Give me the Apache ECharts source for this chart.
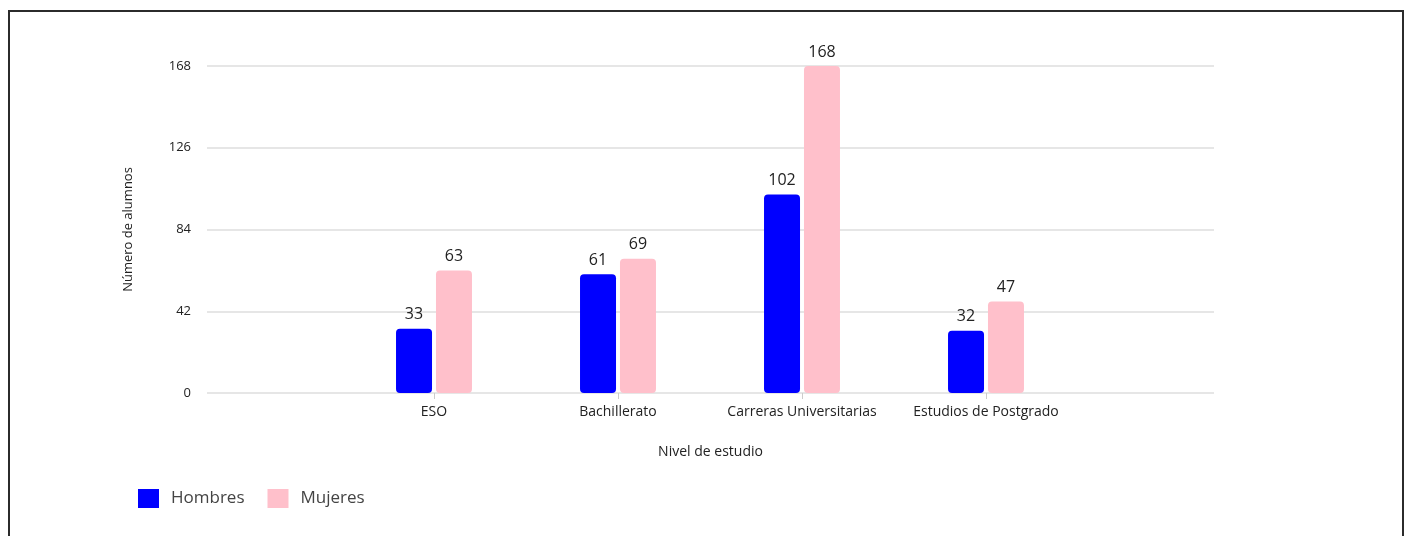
<!DOCTYPE html>
<html>
<head>
<meta charset="utf-8">
<script src="https://cdn.jsdelivr.net/npm/echarts@6/dist/echarts.min.js"></script>
<style>
  html, body { margin: 0; padding: 0; background: #fff; overflow: hidden; }
  #chart { position: absolute; left: 0; top: 0; width: 1408px; height: 536px; }
  #marco { position: absolute; left: 8px; top: 10px; width: 1392px; height: 560px;
           border: 2px solid #2b2b2b; pointer-events: none; }
</style>
</head>
<body>
<div id="chart"></div>
<div id="marco"></div>
<script>
// datos del gráfico
var categorias = ['ESO', 'Bachillerato', 'Carreras Universitarias', 'Estudios de Postgrado'];
var hombres = [33, 61, 102, 32];
var mujeres = [63, 69, 168, 47];
var ticksY = [0, 42, 84, 126, 168];

var fuente = '"Open Sans", "Noto Sans", sans-serif';

var myChart = echarts.init(document.getElementById('chart'));

var etiqueta = {
	show: true,
	position: 'top',
	distance: 6,
	color: '#222',
	fontSize: 16,
	fontFamily: fuente
};

var option = {
	animation: false,
	textStyle: { fontFamily: fuente },
	grid: [
		{ left: 207, right: 194, top: 66, bottom: 143 },
		{ left: 342, right: 330, top: 66, bottom: 143 }
	],
	legend: {
		data: ['Hombres', 'Mujeres'],
		left: 133,
		top: 484,
		icon: 'rect',
		itemWidth: 21,
		itemHeight: 19,
		itemGap: 23,
		textStyle: { fontSize: 17, color: '#444', fontFamily: fuente, padding: [0, 0, 0, 7] }
	},
	xAxis: [{
		// eje de fondo, solo para el nombre
		gridIndex: 0,
		type: 'value',
		min: 0,
		max: 1,
		name: 'Nivel de estudio',
		nameLocation: 'middle',
		nameGap: 52,
		nameTextStyle: { fontSize: 14, color: '#222', fontFamily: fuente },
		axisLine: { show: false },
		axisTick: { show: false },
		axisLabel: { show: false },
		splitLine: { show: false }
	}, {
		gridIndex: 1,
		type: 'category',
		data: categorias,
		axisLine: { show: false },
		axisTick: { show: true, alignWithLabel: true, length: 6, lineStyle: { color: '#ccc' } },
		axisLabel: { interval: 0, margin: 12, fontSize: 14, color: '#222', fontFamily: fuente }
	}],
	yAxis: [{
		gridIndex: 0,
		type: 'value',
		min: ticksY[0],
		max: ticksY[ticksY.length - 1],
		interval: 42,
		name: 'Número de alumnos',
		nameLocation: 'middle',
		nameGap: 72,
		nameTextStyle: { fontSize: 13, color: '#222', fontFamily: fuente },
		axisLine: { show: false },
		axisTick: { show: false },
		axisLabel: { margin: 16, fontSize: 13, color: '#222', fontFamily: fuente },
		splitLine: { lineStyle: { color: '#dedede', width: 1.5 } }
	}, {
		gridIndex: 1,
		type: 'value',
		min: ticksY[0],
		max: ticksY[ticksY.length - 1],
		interval: 42,
		show: false
	}],
	series: [{
		name: 'Hombres',
		type: 'bar',
		xAxisIndex: 1,
		yAxisIndex: 1,
		data: hombres,
		barWidth: 36,
		barGap: '11%',
		itemStyle: { color: '#0000ff', borderRadius: 4 },
		label: etiqueta
	}, {
		name: 'Mujeres',
		type: 'bar',
		xAxisIndex: 1,
		yAxisIndex: 1,
		data: mujeres,
		barWidth: 36,
		barGap: '11%',
		itemStyle: { color: '#ffc0cb', borderRadius: 4 },
		label: etiqueta
	}]
};

myChart.setOption(option);
</script>
</body>
</html>
